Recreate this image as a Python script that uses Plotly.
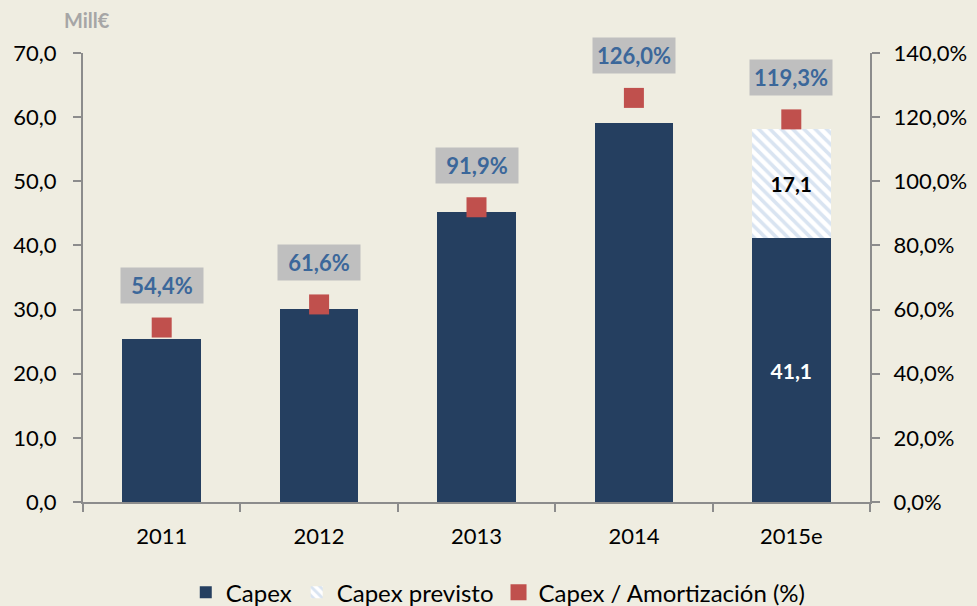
import plotly.graph_objects as go

# datos del gráfico
years = ["2011", "2012", "2013", "2014", "2015e"]
capex = [25.4, 30.1, 45.2, 59.1, 41.1]
capex_previsto = [0, 0, 0, 0, 17.1]
ratio_pct = [54.4, 61.6, 91.9, 126.0, 119.3]

FONT = "Lato"
BG = "#EFEDE1"
AXIS = "#8C8C8C"

# posiciones numéricas para evitar que "2011" se lea como fecha/número
pos = list(range(len(years)))

fig = go.Figure()

fig.add_trace(go.Bar(
    x=pos, y=capex, name="Capex", width=0.5,
    marker=dict(color="#253F60", line_width=0),
    text=["", "", "", "", "<b>41,1</b>"], textposition="inside", insidetextanchor="middle",
    textfont=dict(color="white", size=21, family=FONT), textangle=0,
))
fig.add_trace(go.Bar(
    x=pos, y=capex_previsto, name="Capex previsto", width=0.5,
    marker=dict(color="white", line_width=0,
                pattern=dict(shape="\\", fgcolor="#B4C9E4", bgcolor="white", size=8, solidity=0.45)),
    text=["", "", "", "", "<b>17,1</b>"], textposition="inside", insidetextanchor="middle",
    textfont=dict(color="black", size=21, family=FONT), textangle=0,
))
fig.add_trace(go.Scatter(
    x=pos, y=ratio_pct, name="Capex / Amortización (%)", yaxis="y2",
    mode="markers", marker=dict(symbol="square", size=20, color="#C0504D"),
))

# etiquetas del ratio en caja gris
for p, v in zip(pos, ratio_pct):
    fig.add_annotation(
        x=p, y=v, yref="y2", yshift=42,
        text="<b>" + f"{v:.1f}".replace(".", ",") + "%</b>",
        showarrow=False, bgcolor="#BFBFBF", width=80, height=33,
        font=dict(color="#3B679A", size=22, family=FONT),
    )

fig.add_annotation(
    xref="paper", yref="paper", x=0.005, y=1.0735, xanchor="center", yanchor="middle",
    text="<b>Mill€</b>", showarrow=False, font=dict(color="#A6A6A6", size=20, family=FONT),
)

fig.update_layout(
    width=977, height=606,
    paper_bgcolor=BG, plot_bgcolor=BG,
    margin=dict(l=83, r=107, t=53, b=104, autoexpand=False),
    barmode="stack",
    separators=",.",
    font=dict(family=FONT, size=22, color="black"),
    showlegend=True,
    legend=dict(orientation="h", x=0.51, xanchor="center", xref="container",
                y=0.022, yanchor="middle", yref="container",
                traceorder="normal", font=dict(size=24, family=FONT)),
    xaxis=dict(range=[-0.5, len(years) - 0.5], tickvals=pos, ticktext=years, ticks="",
               showline=True, linecolor=AXIS, linewidth=2, showgrid=False, zeroline=False,
               tickfont=dict(size=22), ticklabelstandoff=14,
               minor=dict(tickvals=[p - 0.5 for p in pos] + [len(years) - 0.5], ticks="outside",
                          ticklen=8, tickcolor=AXIS, tickwidth=2, showgrid=False)),
    yaxis=dict(range=[0, 70], dtick=10, tickformat=".1f", showline=True, linecolor=AXIS, linewidth=2,
               ticks="outside", ticklen=8, tickcolor=AXIS, tickwidth=2, showgrid=False, zeroline=False,
               tickfont=dict(size=22), ticklabelstandoff=12),
    yaxis2=dict(range=[0, 140], dtick=20, tickformat=".1f", ticksuffix="%", overlaying="y", side="right",
                showline=True, linecolor=AXIS, linewidth=2, ticks="outside", ticklen=8,
                tickcolor=AXIS, tickwidth=2, showgrid=False, zeroline=False,
                tickfont=dict(size=22), ticklabelstandoff=9),
)

fig.write_html("out.html", config={"displayModeBar": False},
               post_script="document.body.style.margin='0';")
